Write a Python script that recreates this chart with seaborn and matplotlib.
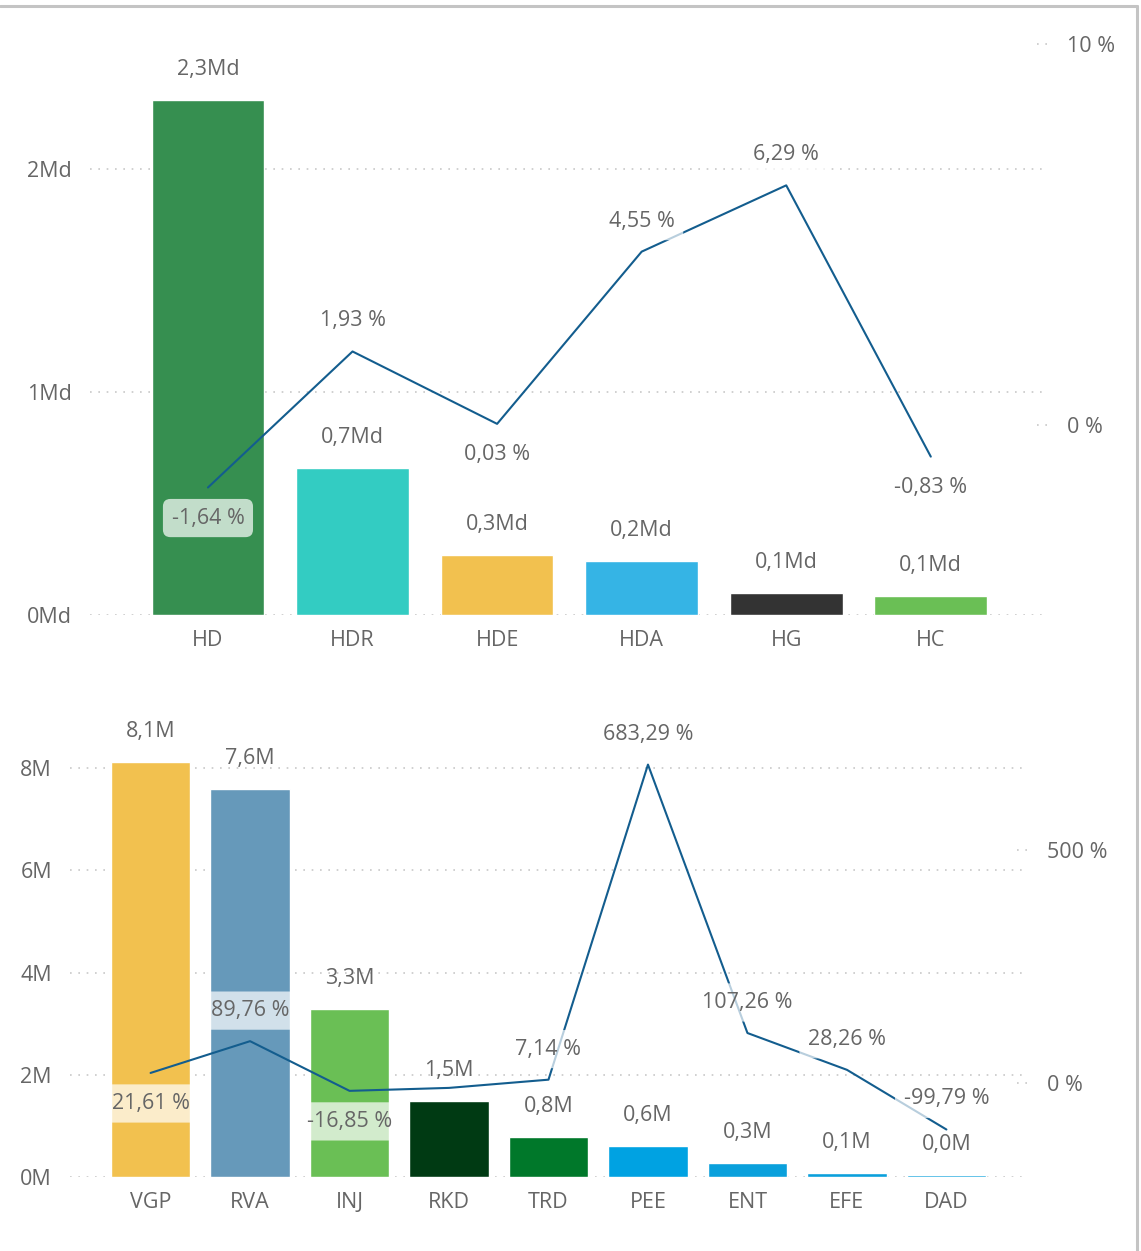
import numpy as np
import matplotlib
matplotlib.use("Agg")
import matplotlib.pyplot as plt
import matplotlib.transforms as mtransforms
from matplotlib.lines import Line2D
import seaborn as sns

# top chart (values in billions "Md", change in %)
top_cats = ['HD', 'HDR', 'HDE', 'HDA', 'HG', 'HC']
top_vals = [2.31, 0.66, 0.27, 0.24, 0.098, 0.087]
top_pct = [-1.64, 1.93, 0.03, 4.55, 6.29, -0.83]
top_colors = ['#368F50', '#33CCC2', '#F2C14F', '#35B4E5', '#333333', '#6ABF55']

# bottom chart (values in millions "M", change in %)
bot_cats = ['VGP', 'RVA', 'INJ', 'RKD', 'TRD', 'PEE', 'ENT', 'EFE', 'DAD']
bot_vals = [8.12, 7.59, 3.29, 1.49, 0.78, 0.61, 0.27, 0.08, 0.04]
bot_pct = [21.61, 89.76, -16.85, -10.5, 7.14, 683.29, 107.26, 28.26, -99.79]
bot_colors = ['#F2C14F', '#6699BA', '#6ABF55', '#003A13', '#00782A', '#00A2E2',
              '#0AA0DC', '#0AA0DC', '#0AA0DC']

# where the % labels sit relative to the line point (None = hidden)
top_lbl_pos = ['below', 'above', 'below', 'above', 'above', 'below']
bot_lbl_pos = ['below', 'above', 'below', None, 'above', 'above', 'above', 'above', 'above']

sns.set_theme(style='white')
plt.rcParams['font.family'] = ['Open Sans', 'DejaVu Sans']

TXT = '#666666'
GRID = '#C8C8C8'
LINE = '#135D8E'
FS = 15.5

W, H = 1141, 1251
fig = plt.figure(figsize=(W / 100, H / 100), dpi=100)


def fmt(v, suffix):
    return f"{v:.1f}".replace('.', ',') + suffix


def pfmt(p):
    return f"{p:.2f}".replace('.', ',') + ' %'


def panel(box, cats, vals, pct, colors, lbl_pos, ylim, yticks, ylabels,
          y2lim, y2ticks, y2labels, unit, bar_w, xpad):
    l, r, t, b = box
    ax = fig.add_axes([l / W, 1 - b / H, (r - l) / W, (b - t) / H])
    sns.barplot(x=cats, y=vals, hue=cats, palette=colors, width=bar_w,
                legend=False, ax=ax, saturation=1, zorder=2)
    n = len(cats)
    ax.set_xlim(-xpad[0], n - 1 + xpad[1])
    ax.set_ylim(*ylim)
    ax.set_yticks(yticks)
    ax.set_yticklabels(ylabels)
    for yv in yticks:
        ax.axhline(yv, color=GRID, lw=1.2, ls=(0, (1, 4)), zorder=0)
    ax.tick_params(axis='x', length=0, pad=11, labelsize=FS, labelcolor=TXT)
    ax.tick_params(axis='y', length=0, pad=13, labelsize=FS, labelcolor=TXT)
    ax.set_xlabel('')
    ax.set_ylabel('')
    for s in ax.spines.values():
        s.set_visible(False)
    for i, v in enumerate(vals):
        ax.annotate(fmt(v, unit), (i, v), xytext=(0, 22), textcoords='offset points',
                    ha='center', va='center', fontsize=FS, color=TXT)

    ax2 = ax.twinx()
    sns.lineplot(x=np.arange(n), y=pct, ax=ax2, color=LINE, lw=1.5, zorder=3)
    ax2.set_ylim(*y2lim)
    ax2.set_yticks(y2ticks)
    ax2.set_yticklabels(y2labels)
    ax2.tick_params(axis='y', length=0, pad=16, labelsize=FS, labelcolor=TXT)
    ax2.set_ylabel('')
    for s in ax2.spines.values():
        s.set_visible(False)
    trans = mtransforms.blended_transform_factory(ax2.transAxes, ax2.transData)
    for yv in y2ticks:
        ax2.plot([0.992, 1.006], [yv, yv], transform=trans, color=GRID, lw=1.2,
                 ls=(0, (1, 4)), clip_on=False)
    for i, (p, pos) in enumerate(zip(pct, lbl_pos)):
        if pos is None:
            continue
        off = 22 if pos == 'above' else -22
        ax2.annotate(pfmt(p), (i, p), xytext=(0, off), textcoords='offset points',
                     ha='center', va='center', fontsize=FS, color=TXT, zorder=5,
                     bbox=dict(boxstyle='round,pad=0.4,rounding_size=0.35',
                               fc='white', ec='none', alpha=0.7))
    return ax, ax2


# top panel: 0Md at y=615px, 223 px per Md; 0% at y=425, 38.1 px per %
panel((90, 1045, 30, 615), top_cats, top_vals, top_pct, top_colors, top_lbl_pos,
      (0, (615 - 30) / 223), [0, 1, 2], ['0Md', '1Md', '2Md'],
      (-(615 - 425) / 38.1, (425 - 30) / 38.1), [0, 10], ['0 %', '10 %'], 'Md', 0.78,
      (0.816, 0.79))

# bottom panel: 0M at y=1177px, 51.1 px per M; 0% at y=1083, 0.466 px per %
panel((70, 1025, 700, 1177), bot_cats, bot_vals, bot_pct, bot_colors, bot_lbl_pos,
      (0, (1177 - 700) / 51.1), [0, 2, 4, 6, 8], ['0M', '2M', '4M', '6M', '8M'],
      (-(1177 - 1083) / 0.466, (1083 - 700) / 0.466), [0, 500], ['0 %', '500 %'], 'M', 0.8,
      (0.81, 0.79))

# frame lines at top and right
fig.add_artist(Line2D([0, 1137 / W], [1 - 6 / H, 1 - 6 / H], color='#C4C4C4', lw=2.2))
fig.add_artist(Line2D([1137 / W, 1137 / W], [1 - 6 / H, 0], color='#C4C4C4', lw=2.2))

fig.savefig('out.png', dpi=100)
